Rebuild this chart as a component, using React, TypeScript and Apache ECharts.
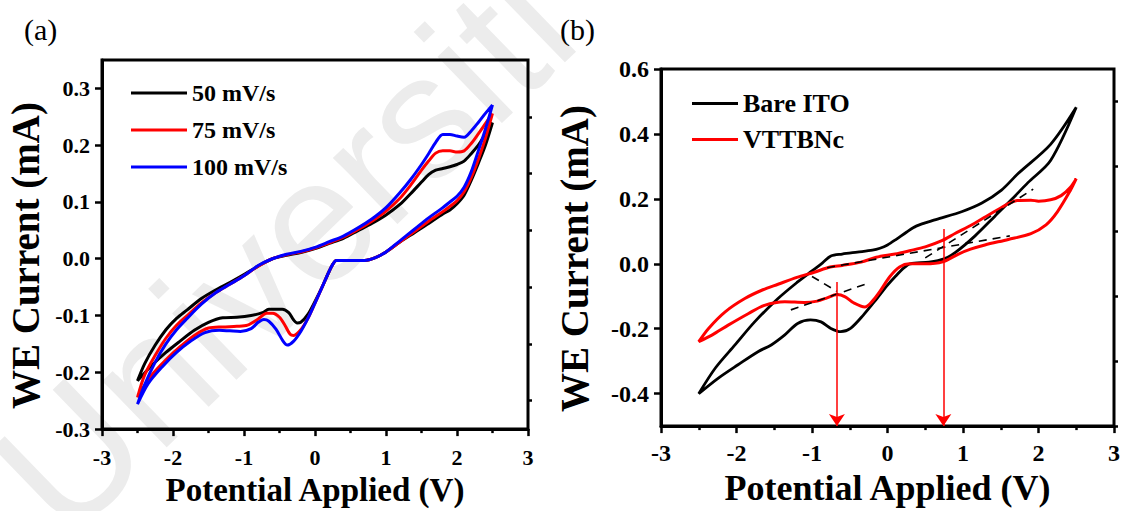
import React, { useEffect, useRef } from "react";
import * as echarts from "echarts";

// ---------- Panel (a): CV at three scan rates (V, mA) ----------
const a50: number[][] = [
  [2.5, 0.24], [2.4, 0.2], [2.3, 0.168], [2.2, 0.138], [2.1, 0.112], [2.0, 0.097], [1.9, 0.086], [1.8, 0.079],
  [1.6, 0.062], [1.4, 0.046], [1.2, 0.03], [1.0, 0.012], [0.85, 0.002], [0.7, -0.003], [0.5, -0.003], [0.3, -0.003],
  [0.25, -0.01], [0.2, -0.022], [0.1, -0.05], [0.0, -0.075], [-0.1, -0.098], [-0.2, -0.112], [-0.25, -0.113],
  [-0.3, -0.108], [-0.37, -0.095], [-0.46, -0.089], [-0.65, -0.089], [-0.74, -0.095], [-0.9, -0.1], [-1.1, -0.103],
  [-1.3, -0.104], [-1.5, -0.112], [-1.7, -0.126], [-1.9, -0.145], [-2.1, -0.165], [-2.3, -0.188], [-2.5, -0.215],
  [-2.4, -0.185], [-2.25, -0.152], [-2.1, -0.125], [-1.95, -0.105], [-1.8, -0.09], [-1.6, -0.07], [-1.4, -0.055],
  [-1.2, -0.042], [-1.0, -0.028], [-0.8, -0.013], [-0.6, 0.0], [-0.4, 0.006], [-0.2, 0.011], [0.0, 0.018],
  [0.2, 0.027], [0.4, 0.036], [0.6, 0.049], [0.8, 0.062], [1.0, 0.077], [1.2, 0.096], [1.35, 0.115], [1.5, 0.135],
  [1.6, 0.148], [1.7, 0.156], [1.8, 0.159], [1.9, 0.162], [2.0, 0.166], [2.1, 0.172], [2.2, 0.185], [2.3, 0.2],
  [2.4, 0.22], [2.5, 0.24],
];
const a75: number[][] = [
  [2.5, 0.256], [2.4, 0.212], [2.3, 0.175], [2.2, 0.143], [2.1, 0.118], [2.0, 0.102], [1.9, 0.092], [1.8, 0.083],
  [1.6, 0.066], [1.4, 0.048], [1.2, 0.03], [1.0, 0.012], [0.85, 0.002], [0.7, -0.003], [0.5, -0.003], [0.3, -0.003],
  [0.25, -0.01], [0.2, -0.022], [0.1, -0.05], [0.0, -0.078], [-0.1, -0.105], [-0.2, -0.125], [-0.3, -0.135],
  [-0.35, -0.133], [-0.42, -0.118], [-0.5, -0.103], [-0.6, -0.096], [-0.68, -0.096], [-0.8, -0.106], [-0.95, -0.117],
  [-1.1, -0.119], [-1.3, -0.12], [-1.5, -0.122], [-1.7, -0.135], [-1.9, -0.155], [-2.1, -0.178], [-2.3, -0.205],
  [-2.5, -0.244],
  [-2.4, -0.205], [-2.25, -0.17], [-2.1, -0.14], [-1.95, -0.117], [-1.8, -0.1], [-1.6, -0.078], [-1.4, -0.06],
  [-1.2, -0.045], [-1.0, -0.03], [-0.8, -0.013], [-0.6, 0.0], [-0.4, 0.007], [-0.2, 0.012], [0.0, 0.019],
  [0.2, 0.028], [0.4, 0.038], [0.6, 0.051], [0.8, 0.066], [1.0, 0.084], [1.2, 0.107], [1.35, 0.13], [1.5, 0.156],
  [1.6, 0.172], [1.7, 0.186], [1.8, 0.19], [1.9, 0.19], [2.0, 0.188], [2.1, 0.19], [2.2, 0.203], [2.3, 0.22],
  [2.4, 0.238], [2.5, 0.256],
];
const a100: number[][] = [
  [2.5, 0.271], [2.4, 0.228], [2.3, 0.19], [2.2, 0.153], [2.1, 0.126], [2.0, 0.11], [1.9, 0.1], [1.8, 0.09],
  [1.6, 0.072], [1.4, 0.052], [1.2, 0.032], [1.0, 0.012], [0.85, 0.002], [0.7, -0.003], [0.5, -0.003], [0.3, -0.003],
  [0.25, -0.01], [0.2, -0.022], [0.1, -0.05], [0.0, -0.078], [-0.1, -0.105], [-0.2, -0.128], [-0.3, -0.145],
  [-0.39, -0.152], [-0.45, -0.145], [-0.55, -0.124], [-0.65, -0.11], [-0.72, -0.107], [-0.8, -0.112], [-0.9, -0.123],
  [-1.05, -0.128], [-1.2, -0.127], [-1.35, -0.126], [-1.55, -0.13], [-1.75, -0.145], [-1.95, -0.165], [-2.15, -0.19],
  [-2.35, -0.22], [-2.5, -0.256],
  [-2.4, -0.222], [-2.25, -0.182], [-2.1, -0.15], [-1.95, -0.125], [-1.8, -0.105], [-1.6, -0.08], [-1.4, -0.06],
  [-1.2, -0.045], [-1.0, -0.03], [-0.8, -0.012], [-0.6, 0.0], [-0.4, 0.008], [-0.2, 0.013], [0.0, 0.02],
  [0.2, 0.03], [0.4, 0.04], [0.6, 0.054], [0.8, 0.07], [1.0, 0.09], [1.2, 0.117], [1.35, 0.14], [1.5, 0.166],
  [1.6, 0.185], [1.7, 0.205], [1.8, 0.219], [1.9, 0.219], [2.0, 0.216], [2.1, 0.214], [2.2, 0.225], [2.3, 0.24],
  [2.4, 0.256], [2.5, 0.271],
];

// ---------- Panel (b): Bare ITO vs VTTBNc ----------
const bBare: number[][] = [
  [2.5, 0.482], [2.16, 0.318], [1.86, 0.25], [1.64, 0.197], [1.42, 0.146], [1.16, 0.086], [0.9, 0.035],
  [0.75, 0.015], [0.55, 0.005], [0.3, 0.0], [0.22, -0.012], [0.1, -0.04], [0.0, -0.066], [-0.14, -0.107],
  [-0.32, -0.158], [-0.49, -0.199], [-0.62, -0.209], [-0.75, -0.199], [-0.88, -0.179], [-1.02, -0.173],
  [-1.19, -0.184], [-1.36, -0.219], [-1.54, -0.25], [-1.71, -0.27], [-1.98, -0.311], [-2.24, -0.352], [-2.5, -0.4],
  [-2.28, -0.321], [-2.02, -0.25], [-1.76, -0.179], [-1.45, -0.107], [-1.19, -0.056], [-1.0, -0.022],
  [-0.86, 0.003], [-0.75, 0.024], [-0.6, 0.03], [-0.4, 0.036], [-0.2, 0.042], [-0.1, 0.048], [0.0, 0.058],
  [0.12, 0.076], [0.25, 0.097], [0.38, 0.116], [0.64, 0.136], [0.99, 0.161], [1.25, 0.187], [1.51, 0.227],
  [1.73, 0.278], [2.16, 0.368], [2.5, 0.482],
];
const bVTTBNc: number[][] = [
  [2.5, 0.262], [2.42, 0.235], [2.3, 0.21], [2.16, 0.197], [2.0, 0.193], [1.9, 0.196], [1.72, 0.195], [1.6, 0.185],
  [1.5, 0.172], [1.3, 0.145], [1.1, 0.118], [0.9, 0.094], [0.72, 0.071], [0.5, 0.052], [0.29, 0.04], [0.1, 0.03],
  [-0.15, 0.02], [-0.35, 0.005], [-0.6, -0.005], [-0.76, -0.01], [-0.97, -0.026], [-1.2, -0.042], [-1.45, -0.063],
  [-1.65, -0.08], [-1.89, -0.107], [-2.15, -0.148], [-2.37, -0.199], [-2.5, -0.24],
  [-2.32, -0.219], [-2.11, -0.189], [-1.84, -0.153], [-1.63, -0.128], [-1.36, -0.117], [-1.1, -0.119],
  [-0.93, -0.115], [-0.8, -0.105], [-0.67, -0.095], [-0.56, -0.102], [-0.45, -0.12], [-0.3, -0.133],
  [-0.2, -0.115], [-0.1, -0.085], [0.03, -0.04], [0.16, -0.01], [0.29, 0.0], [0.5, 0.0], [0.73, 0.006],
  [0.94, 0.03], [1.1, 0.045], [1.29, 0.058], [1.6, 0.075], [1.9, 0.093], [2.1, 0.12], [2.25, 0.16],
  [2.42, 0.225], [2.5, 0.262],
];
// dashed baseline (tangent) segments in panel (b)
const dashA: number[][] = [[-1.28, -0.142], [-0.28, -0.062]];
const dashB: number[][] = [[-1.0, -0.039], [-0.67, -0.085]];
const dashC: number[][] = [[-0.8, -0.012], [1.62, 0.086]];
const dashD: number[][] = [[0.5, 0.018], [1.93, 0.23]];
// red arrows marking peak potentials: [x, top y]
const arrowMarks: number[][] = [[-0.67, -0.056], [0.74, 0.107]];

const aLabels = [-0.3, -0.2, -0.1, 0, 0.1, 0.2, 0.3];
const aMinor = [-0.25, -0.15, -0.05, 0.05, 0.15, 0.25];
const bLabels = [-0.4, -0.2, 0, 0.2, 0.4, 0.6];
const bMinor = [-0.5, -0.3, -0.1, 0.1, 0.3, 0.5];

const SERIF = "Liberation Serif";

export default function App() {
  const ref = useRef<HTMLDivElement>(null);
  useEffect(() => {
    if (!ref.current) return;
    const chart = echarts.init(ref.current, undefined, { renderer: "svg" });

    const xAx = (gi: number, fs: number, nameFs: number, margin: number) => ({
      gridIndex: gi,
      type: "value",
      min: -3,
      max: 3,
      interval: 1,
      axisLine: { show: true, onZero: false, lineStyle: { color: "#000", width: 3 } },
      axisTick: { show: true, length: 7, lineStyle: { color: "#000", width: 2.5 } },
      minorTick: { show: true, splitNumber: 2, length: 4, lineStyle: { color: "#000", width: 2.5 } },
      splitLine: { show: false },
      axisLabel: { color: "#000", fontSize: fs, fontWeight: "bold", fontFamily: SERIF, margin },
      name: "Potential Applied (V)",
      nameLocation: "middle",
      nameGap: 43,
      nameTextStyle: { color: "#000", fontSize: nameFs, fontWeight: "bold", fontFamily: SERIF },
    });
    const yMain = (gi: number, min: number, max: number, labels: number[], fs: number, gap: number) => ({
      gridIndex: gi,
      type: "value",
      min,
      max,
      axisLine: { show: true, onZero: false, lineStyle: { color: "#000", width: 3 } },
      axisTick: { show: true, length: 7, customValues: labels, lineStyle: { color: "#000", width: 2.5 } },
      splitLine: { show: false },
      axisLabel: {
        customValues: labels,
        color: "#000",
        fontSize: fs,
        fontWeight: "bold",
        fontFamily: SERIF,
        margin: 12,
        formatter: (v: number) => v.toFixed(1),
      },
      name: "WE Current (mA)",
      nameLocation: "middle",
      nameGap: gap,
      nameTextStyle: {
        color: "#000",
        fontSize: 39,
        fontWeight: "bold",
        fontFamily: SERIF,
        padding: [0, 22, 0, 0],
      },
    });
    const yMinor = (gi: number, min: number, max: number, minor: number[]) => ({
      gridIndex: gi,
      type: "value",
      min,
      max,
      axisLine: { show: false, onZero: false },
      axisTick: { show: true, length: 4, customValues: minor, lineStyle: { color: "#000", width: 2.5 } },
      axisLabel: { show: false, customValues: [] },
      splitLine: { show: false },
    });

    const line = (name: string, data: number[][], color: string, xi: number, yi: number, w: number) => ({
      name,
      type: "line",
      xAxisIndex: xi,
      yAxisIndex: yi,
      data,
      symbol: "none",
      smooth: 0.3,
      lineStyle: { color, width: w },
      itemStyle: { color },
      z: 3,
    });
    const dash = (name: string, data: number[][]) => ({
      name,
      type: "line",
      xAxisIndex: 1,
      yAxisIndex: 2,
      data,
      symbol: "none",
      lineStyle: { color: "#000", width: 1.6, type: [8, 6] },
      z: 4,
    });

    chart.setOption({
      animation: false,
      backgroundColor: "#fff",
      graphic: [
        {
          type: "text",
          x: 25,
          y: 500,
          rotation: (44 * Math.PI) / 180,
          z: -10,
          silent: true,
          style: {
            text: "Universiti",
            font: "175px 'Liberation Sans', Arial, sans-serif",
            fill: "#ececec",
            textAlign: "left",
            textVerticalAlign: "middle",
          },
        },
        {
          type: "text",
          left: 24,
          top: 14,
          style: { text: "(a)", font: "30px 'Liberation Serif'", fill: "#000" },
        },
        {
          type: "text",
          left: 560,
          top: 14,
          style: { text: "(b)", font: "30px 'Liberation Serif'", fill: "#000" },
        },
      ],
      grid: [
        { left: 102, top: 60, width: 426, height: 373, show: true, borderColor: "#000", borderWidth: 3, backgroundColor: "transparent" },
        { left: 661, top: 69, width: 459, height: 363, show: true, borderColor: "#000", borderWidth: 3, backgroundColor: "transparent" },
      ],
      xAxis: [xAx(0, 22, 33, 17), xAx(1, 24, 36, 15)],
      yAxis: [
        yMain(0, -0.3, 0.35, aLabels, 22, 57),
        yMinor(0, -0.3, 0.35, aMinor),
        yMain(1, -0.5, 0.6, bLabels, 24, 67),
        yMinor(1, -0.5, 0.6, bMinor),
      ],
      legend: [
        {
          data: ["50 mV/s", "75 mV/s", "100 mV/s"],
          orient: "vertical",
          left: 126,
          top: 76,
          icon: "rect",
          itemWidth: 56,
          itemHeight: 3,
          itemGap: 13,
          textStyle: { color: "#000", fontSize: 24, fontWeight: "bold", fontFamily: SERIF, lineHeight: 24 },
        },
        {
          data: ["Bare ITO", "VTTBNc"],
          orient: "vertical",
          left: 687,
          top: 85,
          icon: "rect",
          itemWidth: 46,
          itemHeight: 3,
          itemGap: 9,
          textStyle: { color: "#000", fontSize: 26, fontWeight: "bold", fontFamily: SERIF, lineHeight: 27 },
        },
      ],
      series: [
        line("50 mV/s", a50, "#000000", 0, 0, 3),
        line("75 mV/s", a75, "#ff0000", 0, 0, 3),
        line("100 mV/s", a100, "#0000ff", 0, 0, 3),
        line("Bare ITO", bBare, "#000000", 1, 2, 2.8),
        line("VTTBNc", bVTTBNc, "#ff0000", 1, 2, 3),
        dash("d1", dashA),
        dash("d2", dashB),
        dash("d3", dashC),
        dash("d4", dashD),
        {
          name: "arrows",
          type: "lines",
          coordinateSystem: "cartesian2d",
          xAxisIndex: 1,
          yAxisIndex: 2,
          symbol: ["none", "arrow"],
          symbolSize: [7, 12],
          lineStyle: { color: "#ff0000", width: 1.5, opacity: 1 },
          z: 5,
          data: arrowMarks.map((m) => ({ coords: [[m[0], m[1]], [m[0], -0.5]] })),
        },
      ],
    });
    return () => chart.dispose();
  }, []);
  return (
    <div
      ref={ref}
      style={{ position: "fixed", left: 0, top: 0, width: 1123, height: 511, background: "#fff" }}
    />
  );
}
